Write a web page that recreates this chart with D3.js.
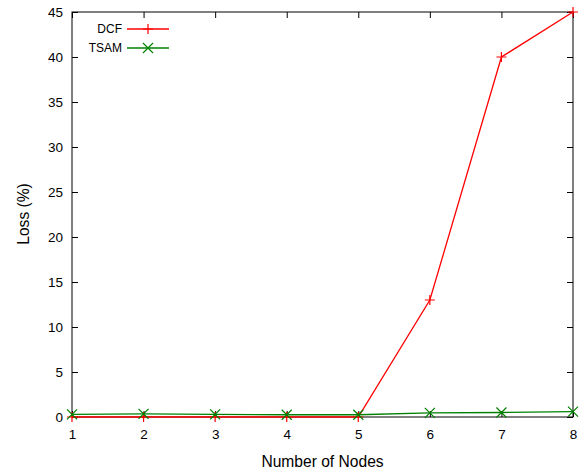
<!DOCTYPE html>
<html>
<head>
<meta charset="utf-8">
<script src="https://cdn.jsdelivr.net/npm/d3@7"></script>
<style>
  html, body { margin: 0; padding: 0; background: #fff; }
  svg { display: block; font-family: "Liberation Sans", Arial, sans-serif; }
</style>
</head>
<body>
<svg id="chart" width="584" height="471"></svg>
<script>
// Loss percentage per node count for the two access schemes
const nodes = [1, 2, 3, 4, 5, 6, 7, 8];
const dcfLoss = [0, 0, 0, 0, 0, 13, 40, 45];
const tsamLoss = [0.3, 0.35, 0.3, 0.25, 0.25, 0.45, 0.5, 0.6];
const yTicks = [0, 5, 10, 15, 20, 25, 30, 35, 40, 45];
const seriesNames = ["DCF", "TSAM"];
const seriesColors = ["#ff0000", "#008000"];

const svg = d3.select("#chart");
const plotLeft = 72, plotRight = 573, plotTop = 12, plotBottom = 417;

const x = d3.scaleLinear().domain([1, 8]).range([plotLeft, plotRight]);
const y = d3.scaleLinear().domain([0, 45]).range([plotBottom, plotTop]);

const tickLen = 6;

// Frame
svg.append("rect")
  .attr("x", plotLeft).attr("y", plotTop)
  .attr("width", plotRight - plotLeft).attr("height", plotBottom - plotTop)
  .attr("fill", "none").attr("stroke", "#000").attr("stroke-width", 1);

// Axes with inward ticks, mirrored on top and right
const xAxis = svg.append("g").attr("transform", `translate(0,${plotBottom})`)
  .call(d3.axisBottom(x).tickValues(nodes).tickSize(-tickLen).tickPadding(12).tickFormat(d3.format("d")));
const xTop = svg.append("g").attr("transform", `translate(0,${plotTop})`)
  .call(d3.axisTop(x).tickValues(nodes).tickSize(-tickLen).tickFormat(""));
const yAxis = svg.append("g").attr("transform", `translate(${plotLeft},0)`)
  .call(d3.axisLeft(y).tickValues(yTicks).tickSize(-tickLen).tickPadding(9).tickFormat(d3.format("d")));
const yRight = svg.append("g").attr("transform", `translate(${plotRight},0)`)
  .call(d3.axisRight(y).tickValues(yTicks).tickSize(-tickLen).tickFormat(""));

[xAxis, xTop, yAxis, yRight].forEach(g => {
  g.select(".domain").remove();
  g.selectAll(".tick line").attr("stroke", "#000");
  g.selectAll(".tick text").attr("font-size", 13.5).attr("fill", "#000")
    .attr("font-family", "Liberation Sans, Arial, sans-serif");
});

// Axis titles
svg.append("text")
  .attr("x", (plotLeft + plotRight) / 2).attr("y", 466.5)
  .attr("text-anchor", "middle").attr("font-size", 15.6)
  .text("Number of Nodes");
svg.append("text")
  .attr("transform", `translate(29,214) rotate(-90)`)
  .attr("text-anchor", "middle").attr("font-size", 15.6)
  .text("Loss (%)");

// Marker path generators
const plusPath = (cx, cy, s) => `M${cx - s},${cy}H${cx + s}M${cx},${cy - s}V${cy + s}`;
const crossPath = (cx, cy, s) => `M${cx - s},${cy - s}L${cx + s},${cy + s}M${cx - s},${cy + s}L${cx + s},${cy - s}`;
const markers = [plusPath, crossPath];

const line = d3.line().x(d => x(d[0])).y(d => y(d[1]));

[dcfLoss, tsamLoss].forEach((vals, i) => {
  const pts = nodes.map((n, k) => [n, vals[k]]);
  svg.append("path")
    .attr("d", line(pts))
    .attr("fill", "none")
    .attr("stroke", seriesColors[i])
    .attr("stroke-width", 1.3);
  svg.append("path")
    .attr("d", pts.map(p => markers[i](x(p[0]), y(p[1]), 5)).join(""))
    .attr("fill", "none")
    .attr("stroke", seriesColors[i])
    .attr("stroke-width", 1.2);
});

// Legend
seriesNames.forEach((name, i) => {
  const ly = 29 + i * 19;
  svg.append("text")
    .attr("x", 122).attr("y", ly + 4)
    .attr("text-anchor", "end").attr("font-size", 12)
    .text(name);
  svg.append("line")
    .attr("x1", 127).attr("x2", 169).attr("y1", ly).attr("y2", ly)
    .attr("stroke", seriesColors[i]).attr("stroke-width", 1.3);
  svg.append("path")
    .attr("d", markers[i](148, ly, 5))
    .attr("fill", "none").attr("stroke", seriesColors[i]).attr("stroke-width", 1.2);
});
</script>
</body>
</html>
